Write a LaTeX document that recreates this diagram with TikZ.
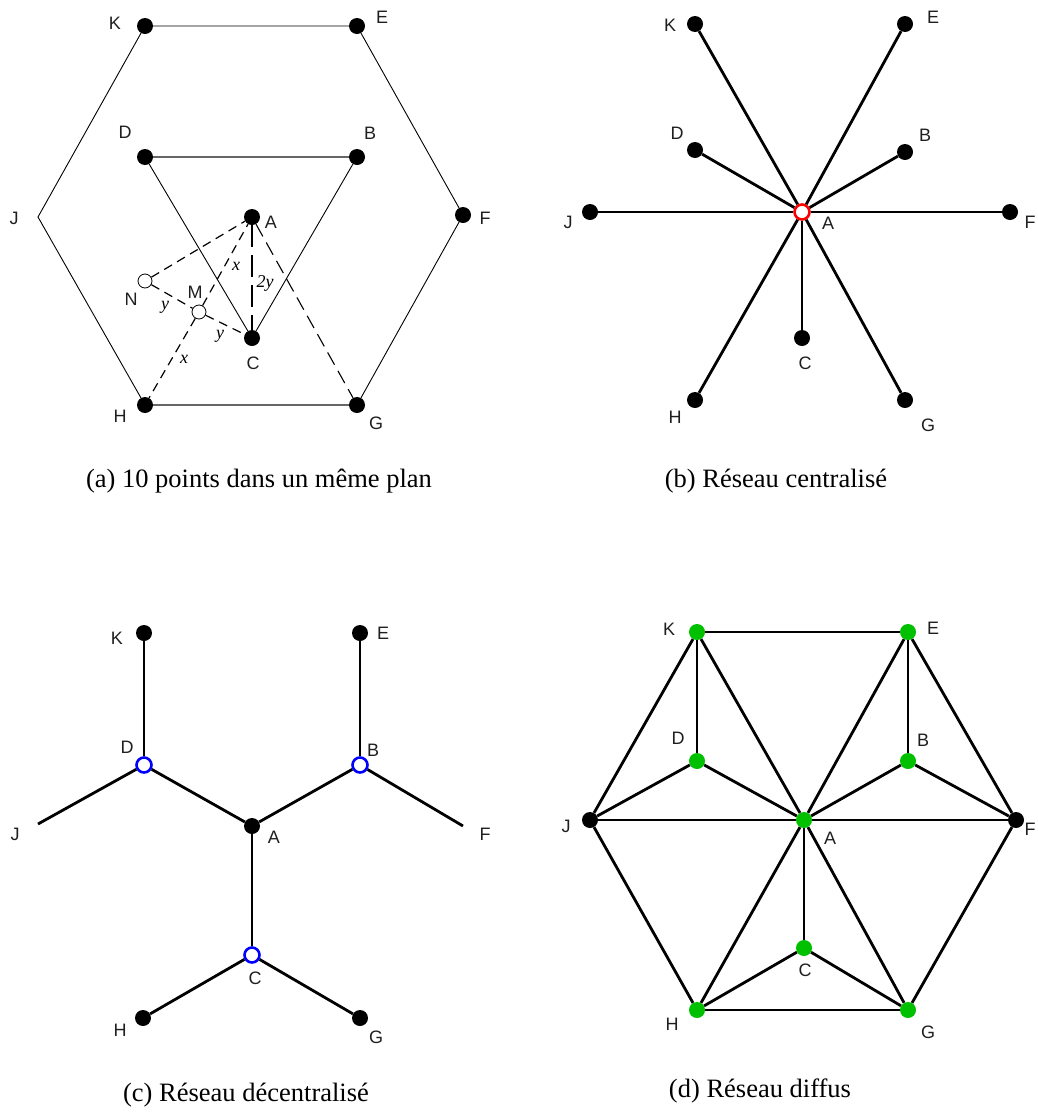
\documentclass[tikz,border=0pt]{standalone}
\usepackage{fontspec}
\setmainfont{Liberation Serif}
\setsansfont{Liberation Sans}
\usepackage{tikz}
\definecolor{rsgreen}{HTML}{00C000}
\definecolor{rsgray}{HTML}{666666}
\definecolor{rsblue}{HTML}{0000FF}
\definecolor{rsred}{HTML}{FF0000}

\begin{document}
\begin{tikzpicture}[x=1pt,y=-1pt,
  dot/.style={circle,fill=black,inner sep=0pt,minimum size=16pt},
  hole/.style={circle,draw=black,fill=white,line width=0.8pt,inner sep=0pt,minimum size=14pt},
  hub/.style={circle,draw=#1,fill=white,line width=2.6pt,inner sep=0pt,minimum size=15pt},
  gdot/.style={circle,fill=rsgreen,inner sep=0pt,minimum size=16pt},
  lbl/.style={font=\sffamily\fontsize{18}{18}\selectfont,text=black!88,inner sep=0pt},
  var/.style={font=\itshape\fontsize{18}{18}\selectfont,inner sep=0pt},
  captxt/.style={font=\fontsize{26.5}{30}\selectfont,inner sep=0pt},
  wire/.style={line width=0.9pt},
  heavy/.style={line width=2.8pt},
  dsh/.style={line width=1.2pt,dash pattern=on 9pt off 6pt},
  dshlong/.style={line width=1.4pt,dash pattern=on 22pt off 8pt},
  dshmid/.style={line width=1.1pt,dash pattern=on 14pt off 7pt}]
  \useasboundingbox[fill=white] (0,0) rectangle (1038,1117);

  % (a) 10 points
  \foreach \n/\x/\y/\lx/\ly in {
    K/145/26/115/23, E/357/26/382/17, D/145/157/125/132, B/357/157/370/133,
    F/463/215/485/218, A/252/217/271/222, C/252/338/253/363,
    H/145/405/120/416, G/357/405/376/423}
  {
    \node[dot] (a\n) at (\x,\y) {};
    \node[lbl] (a\n-lab) at (\lx,\ly) {\n};
  }
  \coordinate (aJ) at (38,217);
  \node[lbl] (aJ-lab) at (14,218) {J};
  \node[hole] (aN) at (145,281) {};
  \node[lbl] (aN-lab) at (131,299) {N};
  \node[hole] (aM) at (199,312) {};
  \node[lbl] (aM-lab) at (195,292) {M};
  \draw[wire] (aH) -- (aJ) -- (aK) -- (aE) -- (aF) -- (aG);
  \draw[wire] (aD) -- (aC) -- (aB);
  \draw[wire,rsgray,line width=1.3pt] (aD) -- (aB) (aH) -- (aG);
  \draw[dsh] (aN) -- (aA);
  \draw[dsh] (aN) -- (aM);
  \draw[dsh] (aM) -- (aC);
  \draw[dsh] (aM) -- (aA);
  \draw[dsh] (aM) -- (aH);
  \draw[dshlong] (aA) -- (aC);
  \draw[dshmid] (aA) -- (aG);
  \node[var] (ax1) at (236,266) {x};
  \node[var] (a2y) at (265,283) {2y};
  \node[var] (ay1) at (165,307) {y};
  \node[var] (ay2) at (220,336) {y};
  \node[var] (ax2) at (184,359) {x};
  \node[captxt] (capa) at (259,481) {(a) 10 points dans un même plan};

  % (b) centralized
  \node[hub=rsred] (bA) at (802,212) {};
  \node[lbl] (bA-lab) at (828,223) {A};
  \foreach \n/\x/\y/\lx/\ly in {
    K/695/24/670/25, E/905/24/933/17, D/695/150/677/133, B/905/152/925/135,
    J/590/212/568/222, F/1010/212/1030/222, C/802/338/805/363,
    H/695/400/675/417, G/905/400/928/425}
  {
    \node[dot] (b\n) at (\x,\y) {};
    \node[lbl] (b\n-lab) at (\lx,\ly) {\n};
    \draw[heavy] (bA) -- (b\n);
  }
  \node[captxt] (capb) at (776,481) {(b) Réseau centralisé};

  % (c) decentralized
  \foreach \n/\x/\y/\lx/\ly in {
    K/144/633/117/638, E/360/633/383/633, A/252/826/274/837,
    H/143/1018/120/1030, G/360/1018/376/1037}
  {
    \node[dot] (c\n) at (\x,\y) {};
    \node[lbl] (c\n-lab) at (\lx,\ly) {\n};
  }
  \foreach \n/\x/\y/\lx/\ly in {
    D/144/765/127/747, B/360/765/373/750, C/252/955/255/978}
  {
    \node[hub=rsblue] (c\n) at (\x,\y) {};
    \node[lbl] (c\n-lab) at (\lx,\ly) {\n};
  }
  \coordinate (cJ) at (38,824);
  \node[lbl] (cJ-lab) at (15,834) {J};
  \coordinate (cF) at (463,826);
  \node[lbl] (cF-lab) at (485,834) {F};
  \foreach \u/\v in {K/D, D/J, D/A, E/B, B/F, B/A, A/C, C/H, C/G}
    \draw[heavy] (c\u) -- (c\v);
  \node[captxt] (capc) at (246,1095) {(c) Réseau décentralisé};

  % (d) diffuse
  \foreach \n/\x/\y/\lx/\ly in {
    K/697/632/669/629, E/908/632/933/628, D/697/761/678/738, B/908/761/923/740,
    A/804/820/830/838, C/804/948/805/970, H/697/1010/672/1024, G/908/1010/928/1032}
  {
    \node[gdot] (d\n) at (\x,\y) {};
    \node[lbl] (d\n-lab) at (\lx,\ly) {\n};
  }
  \node[dot] (dJ) at (590,820) {};
  \node[lbl] (dJ-lab) at (566,826) {J};
  \node[dot] (dF) at (1016,820) {};
  \node[lbl] (dF-lab) at (1030,829) {F};
  \foreach \u/\v in {K/E, K/J, K/D, K/A, E/A, E/B, E/F, D/J, D/A, B/A, B/F,
    J/A, A/F, J/H, F/G, A/H, A/C, A/G, C/H, C/G, H/G}
    \draw[heavy] (d\u) -- (d\v);
  \node[captxt] (capd) at (760,1091) {(d) Réseau diffus};
\end{tikzpicture}
\end{document}
